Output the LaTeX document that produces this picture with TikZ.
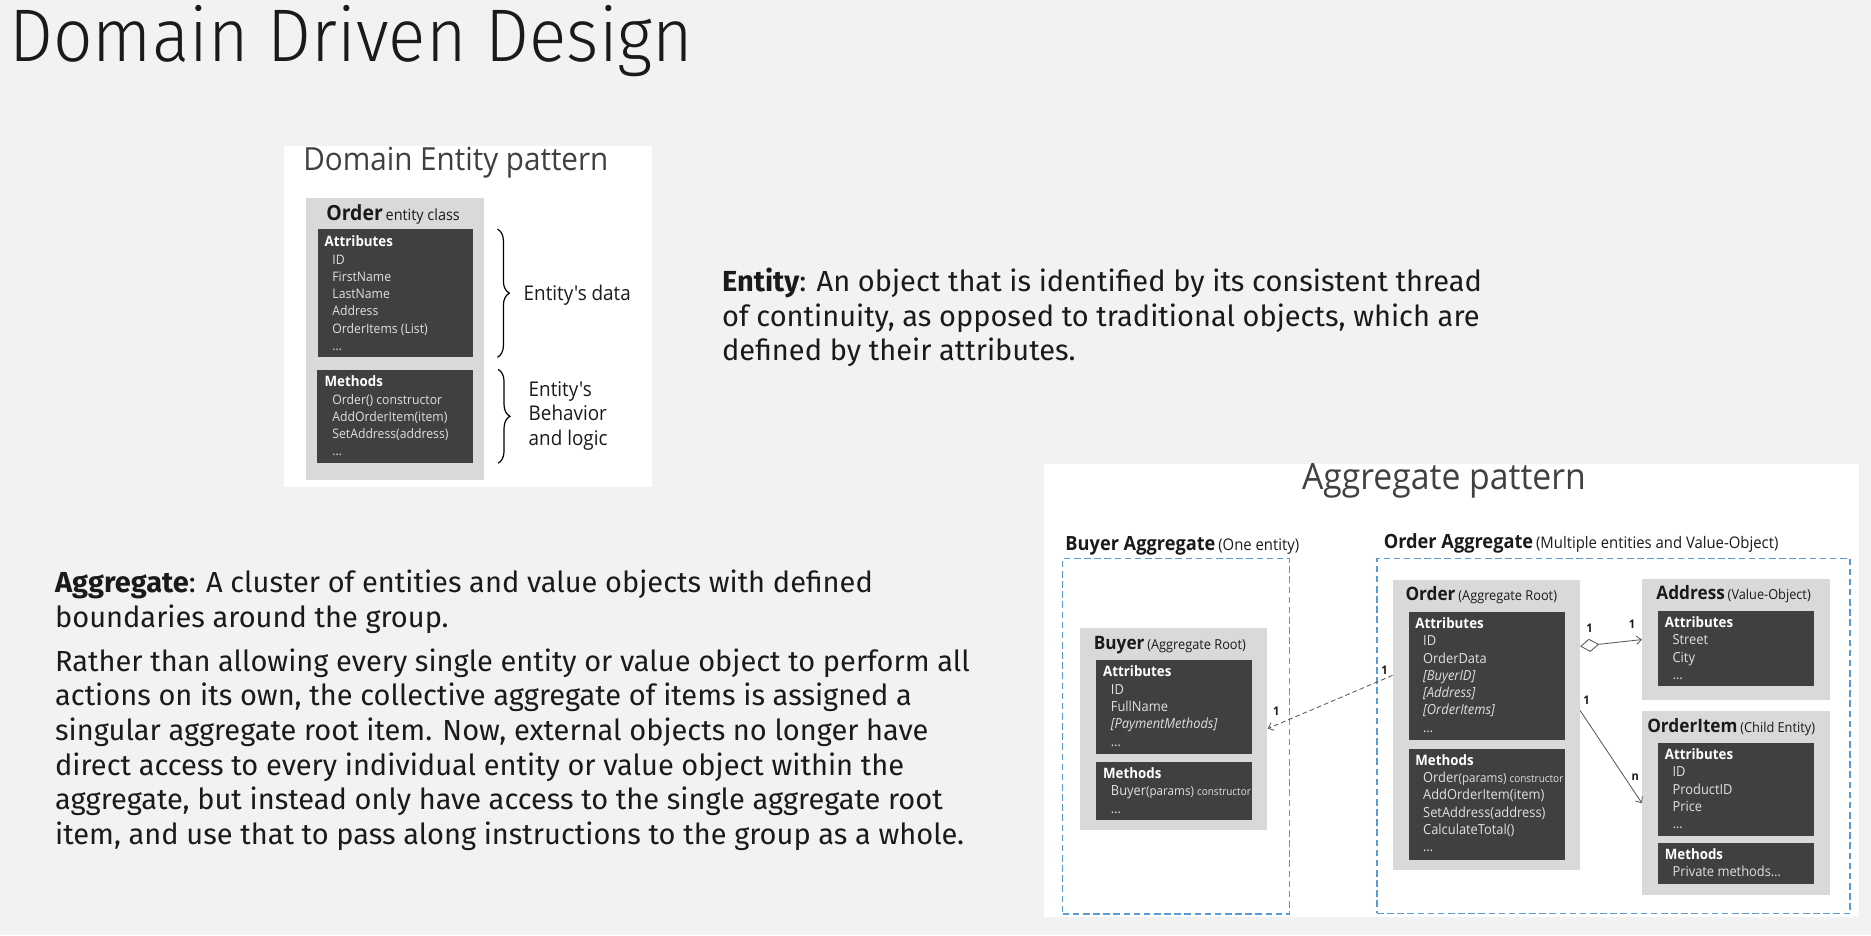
\documentclass[tikz,border=0pt]{standalone}
\usepackage{fontspec}
\setmainfont{Fira Sans}
\newfontfamily\titlefont{Fira Sans Light}[FakeStretch=0.93]
\newfontfamily\umlfont{Open Sans}[FakeStretch=0.93]
\usetikzlibrary{calc,arrows.meta,decorations.pathreplacing}

\definecolor{bg}{HTML}{F2F2F2}
\definecolor{ink}{HTML}{1A1A1A}
\definecolor{boxgray}{HTML}{D9D9D9}
\definecolor{darkbox}{HTML}{404040}
\definecolor{itemgray}{HTML}{E0E0E0}
\definecolor{aggblue}{HTML}{5B9BD5}

\newcommand{\mhead}[1]{{\color{white}\bfseries\fontsize{12}{14.5}\selectfont #1}}
\newcommand{\mitem}{\hspace*{6.5pt}}
\newcommand{\parsz}[1]{{\fontsize{10.5}{14.5}\selectfont #1}}

% multi-line nodes sit on the baseline of their last line
\tikzset{
  panel/.style={fill=white,anchor=north west,inner sep=0},
  classbox/.style={fill=boxgray,anchor=north west,inner sep=0},
  membox/.style={fill=darkbox,anchor=north west,inner sep=0},
  aggbox/.style={draw=aggblue,line width=1.1pt,dash pattern=on 5.5pt off 3pt,anchor=north west,inner sep=0},
  members/.style={anchor=base west,inner sep=0,align=left,text=itemgray,font=\umlfont\fontsize{11.6}{14.5}\selectfont},
  label/.style={anchor=base west,inner sep=0},
  mult/.style={inner sep=0,font=\umlfont\bfseries\fontsize{10}{10}\selectfont},
  link/.style={draw=black!65,line width=0.7pt},
  barb/.style={-{Straight Barb[length=4pt,width=7pt]}},
  curly/.style={decorate,decoration={brace,amplitude=10pt},line width=1pt},
}

\begin{document}
\begin{tikzpicture}[x=1pt,y=-1pt,text=ink]

\fill[bg] (0,0) rectangle (1568,783.6);

\node[label,font=\titlefont\fontsize{62.5}{62.5}\selectfont] (title) at (7.8,51.7) {Domain Driven Design};

% entity pattern
\begin{scope}
\node[panel,minimum width=308pt,minimum height=286pt] (entpanel) at (238,122) {};
\node[label,text=darkbox,font=\umlfont\fontsize{26.7}{26.7}\selectfont] (enttitle) at (254,142.5) {Domain Entity pattern};

\node[classbox,minimum width=149.5pt,minimum height=237pt] (entbox) at (256,165.4) {};
\node[label,font=\umlfont] (entname) at (273.3,184.4) {{\bfseries\fontsize{17.5}{17.5}\selectfont Order} {\fontsize{13}{13}\selectfont entity class}};

\node[membox,minimum width=130pt,minimum height=107pt] (entattr) at (266,192) {};
\node[members,font=\umlfont\fontsize{11}{14.5}\selectfont] (entattrtxt) at (271.9,293.8) {\mhead{Attributes}\\
  \mitem ID\\ \mitem FirstName\\ \mitem LastName\\ \mitem Address\\ \mitem OrderItems (List)\\ \mitem \dots};

\node[membox,minimum width=130.5pt,minimum height=78.2pt] (entmeth) at (265.5,309.6) {};
\node[members,font=\umlfont\fontsize{11}{14.5}\selectfont] (entmethtxt) at (271.9,382.1) {\mhead{Methods}\\
  \mitem Order() constructor\\ \mitem AddOrderItem(item)\\ \mitem SetAddress(address)\\ \mitem \dots};

\draw[curly] ($(entattr.north east)+(20.5,0)$) -- ($(entattr.south east)+(20.5,0)$);
\draw[curly] ($(entmeth.north east)+(21,0)$) -- ($(entmeth.south east)+(21,0)$);
\node[label,font=\umlfont\fontsize{17}{20.5}\selectfont] (entdata) at (438.7,251.5) {Entity's data};
\node[label,align=left,font=\umlfont\fontsize{17}{20.3}\selectfont] (entlogic) at (442.9,373.1) {Entity's\\Behavior\\and logic};
\end{scope}

\node[label,align=left,font=\fontsize{24.3}{29}\selectfont] (entitytxt) at (605,302.5) {\textbf{Entity}: An object that is identified by its consistent thread\\
of continuity, as opposed to traditional objects, which are\\
defined by their attributes.};

\node[label,align=left,font=\fontsize{24.3}{29}\selectfont] (aggtxt) at (46,525.5) {\textbf{Aggregate}: A cluster of entities and value objects with defined\\
boundaries around the group.};
\node[label,align=left,font=\fontsize{24.3}{29}\selectfont] (roottxt) at (46,707.5) {Rather than allowing every single entity or value object to perform all\\
actions on its own, the collective aggregate of items is assigned a\\
singular aggregate root item. Now, external objects no longer have\\
direct access to every individual entity or value object within the\\
aggregate, but instead only have access to the single aggregate root\\
item, and use that to pass along instructions to the group as a whole.};

% aggregate pattern
\begin{scope}
\node[panel,minimum width=683pt,minimum height=379pt] (aggpanel) at (875,389) {};
\node[label,text=darkbox,font=\umlfont\fontsize{30.4}{30.4}\selectfont] (aggtitle) at (1091,410) {Aggregate pattern};

\node[label,font=\umlfont] (buyagglbl) at (892.7,461) {{\bfseries\fontsize{16.4}{16.4}\selectfont Buyer Aggregate} {\fontsize{13.4}{13.4}\selectfont(One entity)}};
\node[aggbox,minimum width=190pt,minimum height=298pt] (buyagg) at (890,467.5) {};

\node[classbox,minimum width=156.7pt,minimum height=169.2pt] (buybox) at (905.3,525.8) {};
\node[label,font=\umlfont] (buyname) at (916.5,544.3) {{\bfseries\fontsize{15.5}{15.5}\selectfont Buyer} {\fontsize{11.5}{11.5}\selectfont(Aggregate Root)}};
\node[membox,minimum width=130.5pt,minimum height=78.3pt] (buyattr) at (918.7,553.2) {};
\node[members] (buyattrtxt) at (924.3,625.2) {\mhead{Attributes}\\
  \mitem ID\\ \mitem FullName\\ \mitem \textit{[PaymentMethods]}\\ \mitem \dots};
\node[membox,minimum width=130.5pt,minimum height=48.8pt] (buymeth) at (918.7,638.5) {};
\node[members] (buymethtxt) at (924.3,681.4) {\mhead{Methods}\\
  \mitem Buyer\parsz{(params) {\fontsize{9}{14.5}\selectfont constructor}}\\ \mitem \dots};

\node[label,font=\umlfont] (ordagglbl) at (1159.5,459.6) {{\bfseries\fontsize{16.4}{16.4}\selectfont Order Aggregate} {\fontsize{13.4}{13.4}\selectfont(Multiple entities and Value-Object)}};
\node[aggbox,minimum width=396.5pt,minimum height=297.5pt] (ordagg) at (1153.4,467.5) {};

\node[classbox,minimum width=156.8pt,minimum height=243.7pt] (ordbox) at (1167,485.6) {};
\node[label,font=\umlfont] (ordname) at (1177.7,503.5) {{\bfseries\fontsize{15.5}{15.5}\selectfont Order} {\fontsize{11.5}{11.5}\selectfont(Aggregate Root)}};
\node[membox,minimum width=130.5pt,minimum height=107.6pt] (ordattr) at (1180.5,512.7) {};
\node[members] (ordattrtxt) at (1186,613.7) {\mhead{Attributes}\\
  \mitem ID\\ \mitem OrderData\\ \mitem \textit{[BuyerID]}\\ \mitem \textit{[Address]}\\ \mitem \textit{[OrderItems]}\\ \mitem \dots};
\node[membox,minimum width=130.5pt,minimum height=93pt] (ordmeth) at (1180.5,627.3) {};
\node[members] (ordmethtxt) at (1186,713.7) {\mhead{Methods}\\
  \mitem Order\parsz{(params) {\fontsize{9}{14.5}\selectfont constructor}}\\ \mitem AddOrderItem(item)\\ \mitem SetAddress(address)\\ \mitem CalculateTotal()\\ \mitem \dots};

\node[classbox,minimum width=157pt,minimum height=102pt] (addrbox) at (1376,484.8) {};
\node[label,font=\umlfont] (addrname) at (1388,502.4) {{\bfseries\fontsize{15.5}{15.5}\selectfont Address} {\fontsize{11.5}{11.5}\selectfont(Value-Object)}};
\node[membox,minimum width=130.5pt,minimum height=63.1pt] (addrattr) at (1389.5,511.9) {};
\node[members] (addrattrtxt) at (1395,569.3) {\mhead{Attributes}\\
  \mitem Street\\ \mitem City\\ \mitem \dots};

\node[classbox,minimum width=157pt,minimum height=154.5pt] (itembox) at (1376,595.7) {};
\node[label,font=\umlfont] (itemname) at (1380.3,613.8) {{\bfseries\fontsize{15.5}{15.5}\selectfont OrderItem} {\fontsize{11.5}{11.5}\selectfont(Child Entity)}};
\node[membox,minimum width=130.5pt,minimum height=78.3pt] (itemattr) at (1389.5,622.5) {};
\node[members] (itemattrtxt) at (1395,694.5) {\mhead{Attributes}\\
  \mitem ID\\ \mitem ProductID\\ \mitem Price\\ \mitem \dots};
\node[membox,minimum width=130.5pt,minimum height=34.1pt] (itemmeth) at (1389.5,706.3) {};
\node[members] (itemmethtxt) at (1395,734.8) {\mhead{Methods}\\
  \mitem Private methods\dots};

% connectors
\draw[link,barb,dash pattern=on 4pt off 2.5pt] ($(ordbox.west)+(0,-41.65)$) -- (buybox.east);
\draw[link,{Diamond[open,length=16pt,width=11pt]}-{Straight Barb[length=4pt,width=7pt]}] ($(ordbox.east)+(0,-65.95)$) -- (addrbox.west);
\draw[link,barb] ($(ordbox.east)+(0,-12.25)$) -- (itembox.west);

\node[mult] (buyone) at (1069.6,595.7) {1};
\node[mult] (ordone) at (1160.4,561.6) {1};
\node[mult] (diaone) at (1332,526.7) {1};
\node[mult] (addrone) at (1367.7,523) {1};
\node[mult] (itemone) at (1329.5,586.8) {1};
\node[mult] (itemn) at (1370.5,651.6) {n};
\end{scope}

\end{tikzpicture}
\end{document}
